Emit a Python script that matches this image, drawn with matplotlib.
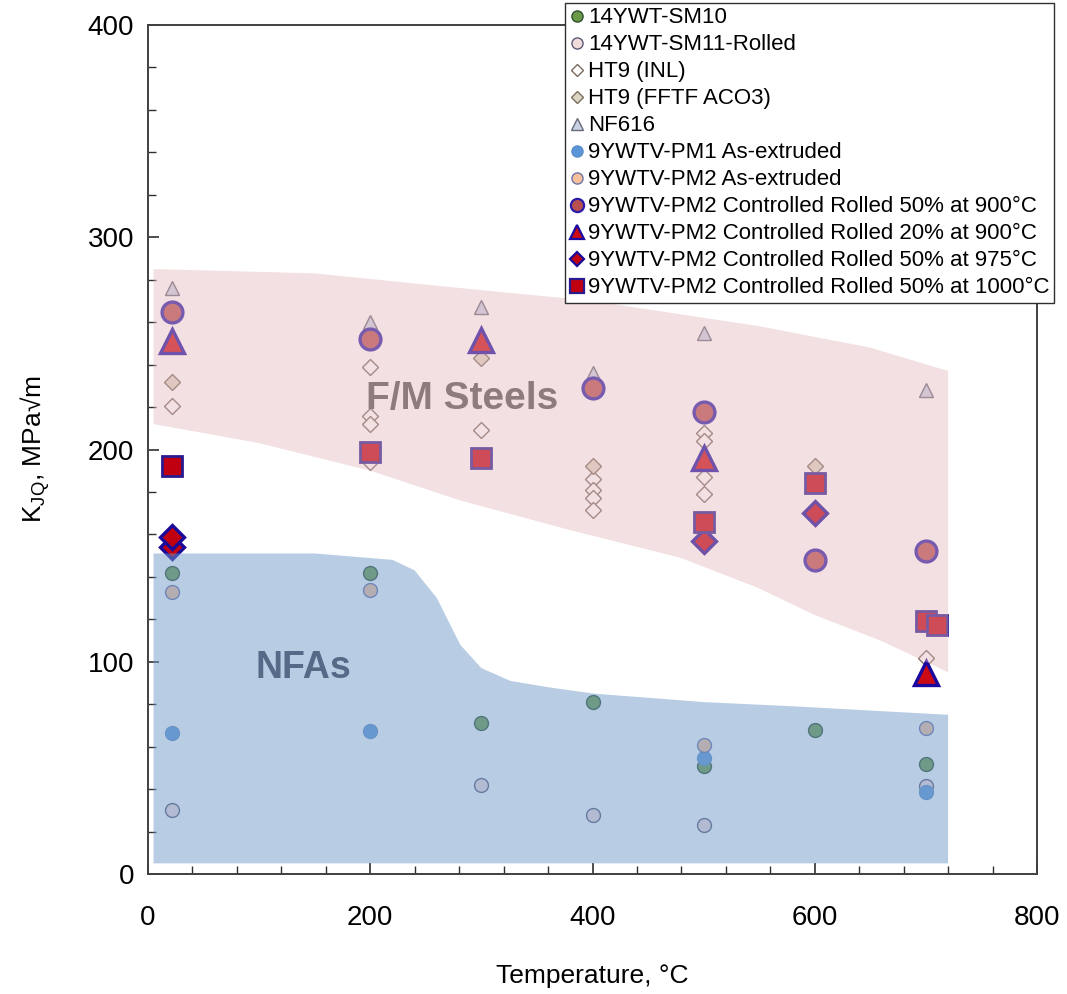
import numpy as np
import matplotlib.pyplot as plt
from matplotlib.lines import Line2D
from matplotlib.patches import Polygon

plt.rcParams['font.family'] = ['Liberation Sans', 'DejaVu Sans']
plt.rcParams['mathtext.fontset'] = 'custom'
plt.rcParams['mathtext.rm'] = 'Liberation Sans'
plt.rcParams['mathtext.it'] = 'Liberation Sans'

# data (temperature in C, K_JQ in MPa*sqrt(m))
sm10_T = [22, 200, 300, 400, 500, 600, 700]
sm10_K = [142, 142, 71, 81, 51, 68, 52]
sm11_T = [22, 300, 400, 500, 700]
sm11_K = [30, 42, 28, 23, 41.5]
ht9inl_T = [22, 200, 200, 200, 200, 300, 400, 400, 400, 400, 500, 500, 500, 500, 700]
ht9inl_K = [220.5, 239, 216, 212, 194, 209, 186, 181, 177, 171.5, 208, 204, 187, 179, 102]
ht9fftf_T = [22, 300, 400, 600]
ht9fftf_K = [232, 243, 192, 192]
nf616_T = [22, 200, 300, 400, 500, 700]
nf616_K = [276, 260, 267, 236, 255, 228]
pm1_T = [22, 200, 500, 700]
pm1_K = [66.5, 67.5, 54.5, 38.5]
pm2_T = [22, 200, 500, 700]
pm2_K = [133, 134, 61, 69]
cr50_900_T = [22, 200, 400, 500, 600, 700]
cr50_900_K = [265, 252, 229, 217.5, 148, 152]
cr20_900_T = [22, 300, 500, 700]
cr20_900_K = [251, 251.5, 196, 94.5]
cr50_975_T = [22, 22, 500, 600]
cr50_975_K = [154, 159, 157, 170]
cr50_1000_T = [22, 200, 300, 500, 600, 700, 710]
cr50_1000_K = [192, 199, 196, 166, 184, 119, 117.5]

# outline of the shaded bands
fm_top_T = [5, 150, 263, 400, 551, 650, 720]
fm_top_K = [285, 283, 277, 270, 258, 248, 237]
fm_bot_T = [5, 100, 200, 281, 380, 479, 548, 600, 659, 700, 720]
fm_bot_K = [212, 203, 190, 176, 162, 149, 135, 122, 110, 100, 95]
nfa_top_T = [5, 150, 220, 240, 260, 281, 300, 326, 360, 401, 500, 581, 720]
nfa_top_K = [151, 151, 148, 143, 130, 108, 97, 91, 88, 85, 81, 79, 75]
nfa_bot = 5

series = [
    # label, T, K, marker, size, face, edge, edge width, legend size
    ('14YWT-SM10', sm10_T, sm10_K, 'o', 10, '#6a9a46', '#2f4f2f', 1.0, 8),
    ('14YWT-SM11-Rolled', sm11_T, sm11_K, 'o', 10, '#f2dcdb', '#5a5a78', 1.0, 8),
    ('HT9 (INL)', ht9inl_T, ht9inl_K, 'D', 8, 'white', '#7a6a60', 1.0, 6.5),
    ('HT9 (FFTF ACO3)', ht9fftf_T, ht9fftf_K, 'D', 8, '#ddd6c3', '#7a6e62', 1.0, 6.5),
    ('NF616', nf616_T, nf616_K, '^', 10, '#c8d2e4', '#6a6a78', 1.0, 8.5),
    ('9YWTV-PM1 As-extruded', pm1_T, pm1_K, 'o', 10, '#5b96d8', '#5b8ec8', 1.0, 8),
    ('9YWTV-PM2 As-extruded', pm2_T, pm2_K, 'o', 10, '#f6c09a', '#6a74a8', 1.0, 8),
    ('9YWTV-PM2 Controlled Rolled 50% at 900°C', cr50_900_T, cr50_900_K, 'o', 15, '#b85050', '#2a1aa8', 2.4, 9.5),
    ('9YWTV-PM2 Controlled Rolled 20% at 900°C', cr20_900_T, cr20_900_K, '^', 17, '#cc0a14', '#1a0aa0', 2.4, 10.5),
    ('9YWTV-PM2 Controlled Rolled 50% at 975°C', cr50_975_T, cr50_975_K, 'D', 12, '#c00010', '#1a0a9a', 2.4, 7.5),
    ('9YWTV-PM2 Controlled Rolled 50% at 1000°C', cr50_1000_T, cr50_1000_K, 's', 14, '#c00010', '#2a1a90', 2.0, 9.5),
]

fig = plt.figure(figsize=(10.67, 9.94), dpi=100)
ax = fig.add_axes([148/1067, 1-874/994, (1037-148)/1067, (874-25)/994])

handles = []
for lab, T, K, mk, ms, fc, ec, mew, lms in series:
    ax.plot(T, K, linestyle='none', marker=mk, markersize=ms, markerfacecolor=fc,
            markeredgecolor=ec, markeredgewidth=mew, zorder=2)
    handles.append(Line2D([], [], linestyle='none', marker=mk, markersize=lms,
                          markerfacecolor=fc, markeredgecolor=ec,
                          markeredgewidth=min(mew, 1.6), label=lab))

# translucent bands drawn over the points, as in the original slide
fm_xy = list(zip(fm_top_T, fm_top_K)) + list(zip(fm_bot_T[::-1], fm_bot_K[::-1]))
ax.add_patch(Polygon(fm_xy, closed=True, facecolor='#e3b6bb', alpha=0.42,
                     edgecolor='none', zorder=3))
nfa_xy = list(zip(nfa_top_T, nfa_top_K)) + [(nfa_top_T[-1], nfa_bot), (nfa_top_T[0], nfa_bot)]
ax.add_patch(Polygon(nfa_xy, closed=True, facecolor='#739bc9', alpha=0.5,
                     edgecolor='none', zorder=3))

ax.text(283, 224, 'F/M Steels', fontsize=28, fontweight='bold', color='#8c7c7c',
        ha='center', va='center', zorder=4)
ax.text(140, 97, 'NFAs', fontsize=27, fontweight='bold', color='#566a88',
        ha='center', va='center', zorder=4)

ax.set_xlim(0, 800)
ax.set_ylim(0, 400)
ax.set_xticks([0, 200, 400, 600, 800])
ax.set_xticks(np.arange(0, 801, 40), minor=True)
ax.set_yticks([0, 100, 200, 300, 400])
ax.set_yticks(np.arange(0, 401, 20), minor=True)
ax.tick_params(which='both', direction='in', top=False, right=False, color='#303030')
ax.tick_params(which='major', length=8, width=1.2, labelsize=20)
ax.tick_params(which='minor', length=6, width=1.0)
ax.tick_params(axis='x', pad=22)
ax.tick_params(axis='y', pad=10)
for s in ax.spines.values():
    s.set_color('#404040')
    s.set_linewidth(1.4)

ax.set_xlabel('Temperature, °C', fontsize=19, labelpad=24)
ax.set_ylabel(r'K$_{\mathregular{JQ}}$, MPa√m', fontsize=19, labelpad=26)

leg = ax.legend(handles=handles, loc='upper left', bbox_to_anchor=(565/1067, 1-3/994),
                bbox_transform=fig.transFigure, fontsize=16, frameon=True, fancybox=False,
                framealpha=1, edgecolor='#303030', borderpad=0.2, labelspacing=0.27,
                handlelength=0.7, handletextpad=0.15, borderaxespad=0)
leg.get_frame().set_linewidth(1.0)
leg.set_zorder(10)

fig.savefig('out.png', dpi=100)
